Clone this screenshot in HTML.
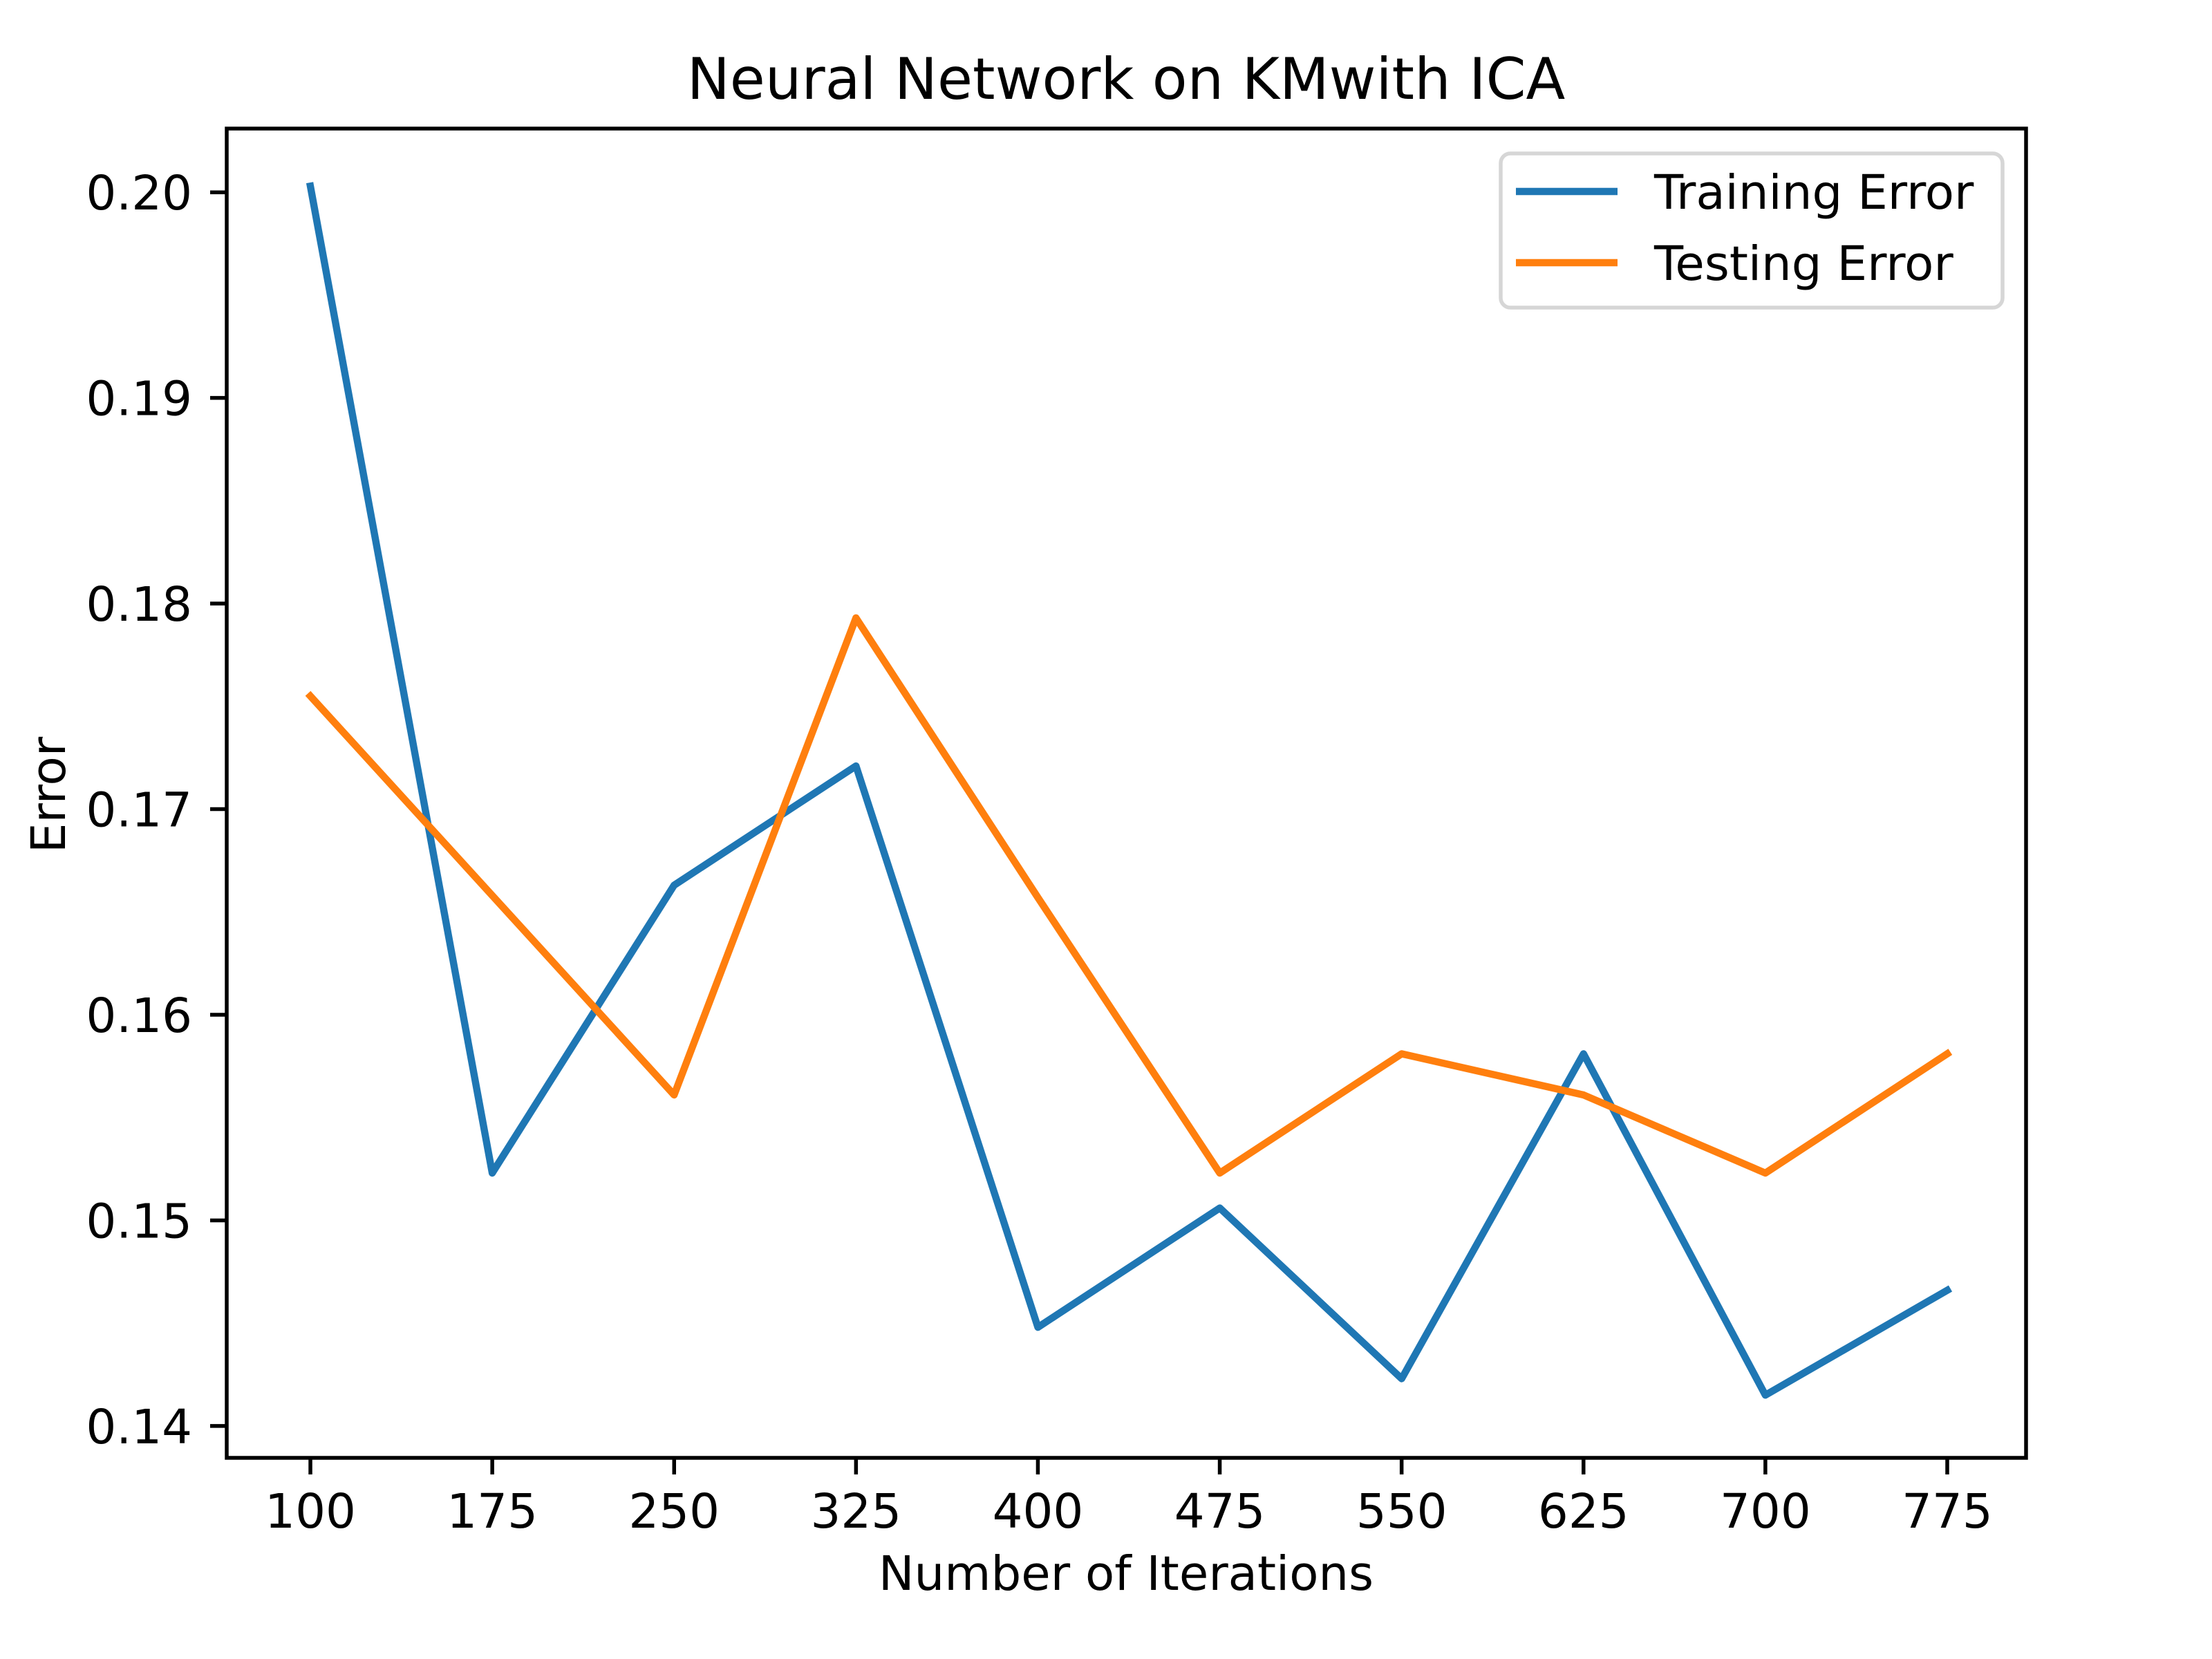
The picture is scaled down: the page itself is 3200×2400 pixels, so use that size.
<!DOCTYPE html>
<html><head><meta charset="utf-8">
<style>
html,body{margin:0;padding:0;background:#fff;}
svg{display:block;font-family:"DejaVu Sans","Liberation Sans",sans-serif;}
</style></head>
<body>
<svg id="chart" width="3200" height="2400" viewBox="0 0 3200 2400" xmlns="http://www.w3.org/2000/svg">
<rect width="3200" height="2400" fill="#fff"/>
<text x="1629" y="143" font-size="83" text-anchor="middle">Neural Network on KMwith ICA</text>
<g id="grid-ticks"></g>
<g id="series"></g>
<rect x="328" y="186" width="2603" height="1923" fill="none" stroke="#000" stroke-width="5.5"/>
<text x="1629" y="2300" font-size="69" text-anchor="middle">Number of Iterations</text>
<text x="0" y="0" font-size="69" text-anchor="middle" transform="translate(94,1150) rotate(-90)">Error</text>
<g>
<rect x="2171" y="222" width="726" height="223" rx="14" fill="#fff" fill-opacity="0.8" stroke="#d6d6d6" stroke-width="5.5"/>
<line x1="2193" y1="277" x2="2340" y2="277" stroke="#1f77b4" stroke-width="10.4"/>
<text x="2393" y="302" font-size="69">Training Error</text>
<line x1="2193" y1="380" x2="2340" y2="380" stroke="#ff7f0e" stroke-width="10.4"/>
<text x="2393" y="405" font-size="69">Testing Error</text>
</g>
</svg>
<script>
const iterations = [100,175,250,325,400,475,550,625,700,775];
const trainingError = [0.2003,0.1523,0.1663,0.1721,0.1448,0.1506,0.1423,0.1581,0.1415,0.1466];
const testingError = [0.1755,0.1658,0.1561,0.1793,0.1657,0.1523,0.1581,0.1561,0.1523,0.1581];
const xTickLabels = ["100","175","250","325","400","475","550","625","700","775"];
const yTicks = [0.14,0.15,0.16,0.17,0.18,0.19,0.20];

const L=328,R=2931,T=186,B=2109;
const xMin=65.5,xMax=807.5,yMin=0.13845,yMax=0.2031;
function xs(v){return L+(v-xMin)/(xMax-xMin)*(R-L);}
function ys(v){return B-(v-yMin)/(yMax-yMin)*(B-T);}
const NS="http://www.w3.org/2000/svg";
const g=document.getElementById('grid-ticks');
const s=document.getElementById('series');
function mk(tag,attrs){const e=document.createElementNS(NS,tag);for(const k in attrs)e.setAttribute(k,attrs[k]);return e;}

iterations.forEach((v,i)=>{
  const x=xs(v);
  const t=mk('line',{x1:x,y1:B,x2:x,y2:B+24,stroke:'#000','stroke-width':5.5});
  
  
  g.appendChild(t);
  const lb=mk('text',{x:x,y:2210,'font-size':69,'text-anchor':'middle'});
  lb.textContent=xTickLabels[i];
  
  
  g.appendChild(lb);
});
yTicks.forEach(v=>{
  const y=ys(v);
  const t=mk('line',{x1:L-24,y1:y,x2:L,y2:y,stroke:'#000','stroke-width':5.5});
  
  
  g.appendChild(t);
  const lb=mk('text',{x:278,y:y+25,'font-size':69,'text-anchor':'end'});
  lb.textContent=v.toFixed(2);
  
  
  g.appendChild(lb);
});
function drawLine(vals,color,name){
  const pts=vals.map((v,i)=>xs(iterations[i]).toFixed(1)+','+ys(v).toFixed(1)).join(' ');
  const p=mk('polyline',{points:pts,fill:'none',stroke:color,'stroke-width':10.4,'stroke-linejoin':'round','stroke-linecap':'square'});
  
  
  s.appendChild(p);
}
drawLine(trainingError,'#1f77b4','training-error-line');
drawLine(testingError,'#ff7f0e','testing-error-line');
</script>
</body></html>
